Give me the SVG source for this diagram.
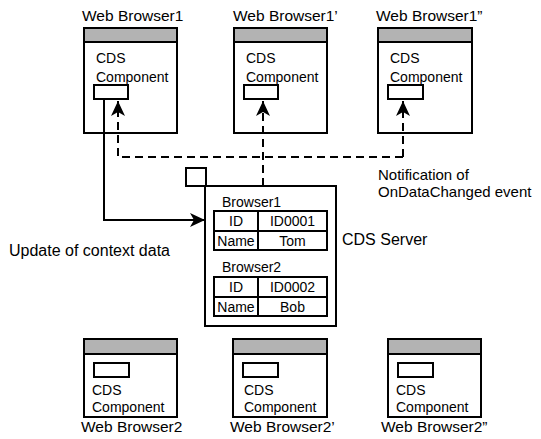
<svg xmlns="http://www.w3.org/2000/svg" width="541" height="439" viewBox="0 0 541 439">
  <style>
    text { font-family: "Liberation Sans", Arial, sans-serif; fill: #000; }
    .title { font-size: 15.5px; }
    .lbl { font-size: 15px; }
    .big { font-size: 16px; }
    .comp { font-size: 14px; }
    .cell { font-size: 14px; text-anchor: middle; }
    .frame { fill: #fff; stroke: #000; stroke-width: 2; }
    .bar { fill: #b3b3b3; stroke: #000; stroke-width: 2; }
    .slot { fill: #fff; stroke: #000; stroke-width: 2; }
    .line { fill: none; stroke: #000; stroke-width: 2; }
    .dash { fill: none; stroke: #000; stroke-width: 2; stroke-dasharray: 8 5; }
  </style>
  <defs>
    <marker id="arrow" viewBox="0 0 15 14" refX="15" refY="7" markerWidth="15" markerHeight="14" markerUnits="userSpaceOnUse" orient="auto">
      <path d="M0,0 L15,7 L0,14 L4,7 Z" fill="#000"/>
    </marker>
  </defs>

  <!-- upper row of browsers -->
  <g id="browser1">
    <text class="title" x="82" y="21">Web Browser1</text>
    <rect class="frame" x="84" y="28" width="93" height="105"/>
    <rect class="bar" x="84" y="28" width="93" height="14"/>
    <text class="comp" x="96" y="63">CDS</text>
    <text class="comp" x="96" y="82">Component</text>
    <rect class="slot" x="94" y="85" width="34" height="14"/>
  </g>
  <g id="browser1p">
    <text class="title" x="233" y="21">Web Browser1’</text>
    <rect class="frame" x="234" y="28" width="93" height="105"/>
    <rect class="bar" x="234" y="28" width="93" height="14"/>
    <text class="comp" x="246" y="63">CDS</text>
    <text class="comp" x="246" y="82">Component</text>
    <rect class="slot" x="244" y="85" width="34" height="14"/>
  </g>
  <g id="browser1pp">
    <text class="title" x="376" y="21">Web Browser1”</text>
    <rect class="frame" x="378" y="28" width="94" height="105"/>
    <rect class="bar" x="378" y="28" width="94" height="14"/>
    <text class="comp" x="390" y="63">CDS</text>
    <text class="comp" x="390" y="82">Component</text>
    <rect class="slot" x="388" y="85" width="35" height="14"/>
  </g>

  <!-- server -->
  <g id="server">
    <rect class="frame" x="205" y="186" width="131" height="140"/>
    <rect class="frame" x="186" y="168" width="20" height="18"/>
    <text class="comp" x="222" y="207">Browser1</text>
    <rect class="frame" x="214" y="211" width="113" height="39"/>
    <path class="line" d="M214,231 H327 M258,211 V250"/>
    <text class="cell" x="236" y="226">ID</text>
    <text class="cell" x="292.5" y="226">ID0001</text>
    <text class="cell" x="236" y="246">Name</text>
    <text class="cell" x="292.5" y="246">Tom</text>
    <text class="comp" x="222" y="272">Browser2</text>
    <rect class="frame" x="214" y="277" width="113" height="39"/>
    <path class="line" d="M214,297 H327 M258,277 V316"/>
    <text class="cell" x="236" y="292">ID</text>
    <text class="cell" x="292.5" y="292">ID0002</text>
    <text class="cell" x="236" y="312">Name</text>
    <text class="cell" x="292.5" y="312">Bob</text>
    <text class="big" x="342" y="245">CDS Server</text>
  </g>

  <!-- lower row of browsers -->
  <g id="browser2">
    <rect class="frame" x="84" y="339" width="93" height="78"/>
    <rect class="bar" x="84" y="339" width="93" height="15"/>
    <rect class="slot" x="94" y="363" width="35" height="14"/>
    <text class="comp" x="92" y="395">CDS</text>
    <text class="comp" x="92" y="412">Component</text>
    <text class="title" x="81" y="432">Web Browser2</text>
  </g>
  <g id="browser2p">
    <rect class="frame" x="233" y="339" width="94" height="78"/>
    <rect class="bar" x="233" y="339" width="94" height="15"/>
    <rect class="slot" x="243" y="363" width="35" height="14"/>
    <text class="comp" x="244" y="395">CDS</text>
    <text class="comp" x="244" y="412">Component</text>
    <text class="title" x="230" y="432">Web Browser2’</text>
  </g>
  <g id="browser2pp">
    <rect class="frame" x="388" y="339" width="93" height="78"/>
    <rect class="bar" x="388" y="339" width="93" height="15"/>
    <rect class="slot" x="398" y="363" width="35" height="14"/>
    <text class="comp" x="396" y="395">CDS</text>
    <text class="comp" x="396" y="412">Component</text>
    <text class="title" x="381" y="432">Web Browser2”</text>
  </g>

  <!-- connectors -->
  <g id="connectors">
    <path class="line" d="M104,99 V220 H205" marker-end="url(#arrow)"/>
    <path class="dash" d="M403,157 H118 V101" marker-end="url(#arrow)"/>
    <path class="dash" d="M263,186 V101" marker-end="url(#arrow)"/>
    <path class="dash" d="M403,157 V101" marker-end="url(#arrow)"/>
    <text class="big" x="9" y="256">Update of context data</text>
    <text class="lbl" x="378" y="180">Notification of</text>
    <text class="lbl" x="378" y="197">OnDataChanged event</text>
  </g>
</svg>
